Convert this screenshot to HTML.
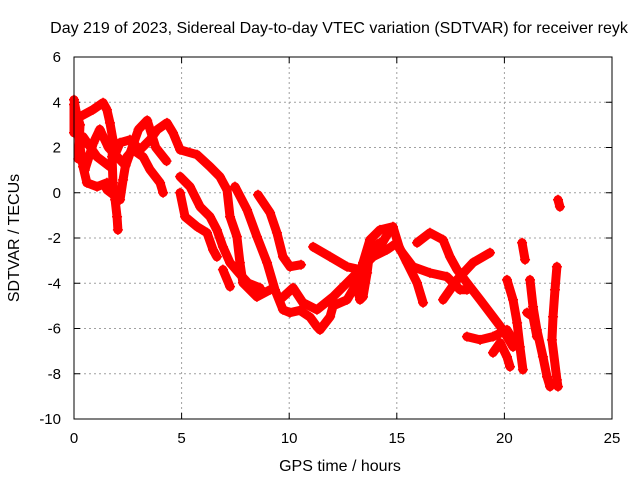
<!DOCTYPE html>
<html><head><meta charset="utf-8"><style>
body{margin:0;background:#fff}
svg text{font-family:"Liberation Sans",sans-serif;font-size:15px;fill:#000}
svg text.big{font-size:16px}
</style></head><body>
<svg id="chart" width="640" height="480">
<rect width="640" height="480" fill="#fff"/>
<text class="big" x="339" y="33" text-anchor="middle">Day 219 of 2023, Sidereal Day-to-day VTEC variation (SDTVAR) for receiver reyk</text>
<text class="big" x="340" y="471" text-anchor="middle">GPS time / hours</text>
<text class="big" transform="translate(19,238) rotate(-90)" text-anchor="middle">SDTVAR / TECUs</text>
<g id="grid"></g>
<g id="ticks"></g>
<g id="series"></g>
<rect x="74" y="57" width="538" height="362" fill="none" stroke="#000" stroke-width="1"/>
</svg>
<script>
const xTicks=[0,5,10,15,20,25];
const yTicks=[6,4,2,0,-2,-4,-6,-8,-10];
const tracks=[
[[0,4.11],[0.14,3.36],[0.28,2.03],[0.42,1.15],[0.6,0.44],[1.07,0.27],[1.53,0.44]],
[[0.28,3.36],[0.88,3.67],[1.35,3.98],[1.53,3.67],[1.67,3.09],[1.81,2.34],[1.77,1.59],[1.81,0.44],[1.91,-0.31],[2.0,-1.06],[2.04,-1.64]],
[[0.42,2.48],[1.07,1.59],[1.67,1.15],[2.14,2.21],[2.6,2.34],[3.07,1.9],[3.53,2.34],[3.86,2.78],[4.32,3.09],[4.6,2.65],[4.93,1.9],[5.72,1.68],[6.32,1.15],[6.78,0.71],[7.11,0.13],[7.25,-1.06],[7.57,-1.94],[7.71,-3.09],[7.85,-3.98],[8.5,-4.6],[9.11,-4.29]],
[[1.53,0.13],[2.14,-0.31],[2.28,0.57],[2.46,1.59],[2.74,1.9],[3.21,1.59],[3.53,1.02],[4.0,0.44],[4.14,0]],
[[0,2.65],[0,3.9],[0.28,3.0],[0.2,1.5]],
[[0.5,1.0],[0.9,2.2],[1.2,2.8],[1.6,2.0],[2.4,1.2],[3.0,2.8],[3.4,3.2],[3.8,2.0],[4.3,1.4]],
[[4.93,0.71],[5.39,0.27],[5.86,-0.62],[6.32,-1.06],[6.64,-1.64],[6.92,-2.39],[7.25,-3.09],[7.71,-3.6],[8.1,-4.0],[8.64,-4.2]],
[[4.93,0],[5.16,-1.06],[5.72,-1.5],[6.18,-1.77],[6.46,-2.52],[6.64,-2.83]],
[[6.92,-3.4],[7.25,-4.15]],
[[7.48,0.27],[8.04,-0.75],[8.5,-1.94],[8.97,-3.09],[9.34,-4.29],[9.71,-5.17],[10.04,-5.3],[10.5,-5.2],[10.97,-5.5],[11.29,-5.92],[11.43,-6.06],[11.9,-5.48],[12.04,-5.0],[12.69,-4.73],[13.15,-3.98],[13.43,-3.09],[13.75,-2.08],[14.22,-1.64],[14.82,-1.5],[15.15,-2.52],[15.75,-3.27],[16.54,-3.54],[17.33,-3.71],[17.94,-4.29],[18.26,-4.29]],
[[8.55,-0.09],[9.11,-0.88],[9.43,-1.77],[9.71,-2.83],[10.04,-3.27],[10.55,-3.18]],
[[9.57,-4.73],[10.18,-4.2],[10.64,-4.86],[11.29,-5.17],[12.04,-4.6],[12.83,-3.85],[13.62,-3.09],[14.22,-2.39],[14.68,-1.64]],
[[11.11,-2.39],[11.9,-2.83],[12.69,-3.27],[13.29,-3.4],[13.89,-2.83],[14.54,-2.52],[15.01,-2.21],[15.47,-3.09],[15.94,-3.98],[16.22,-4.86]],
[[13.15,-4.15],[13.29,-4.73],[13.43,-4.6],[13.62,-3.54],[13.75,-2.52],[14.22,-2.21]],
[[15.94,-2.21],[16.54,-1.77],[17.15,-2.08],[17.47,-2.83],[17.8,-3.4],[18.26,-3.98],[18.87,-4.73],[19.47,-5.48],[19.93,-6.06],[20.4,-6.81]],
[[17.15,-4.73],[17.8,-3.85],[18.54,-3.09],[19.33,-2.65]],
[[18.26,-6.36],[18.87,-6.5],[19.47,-6.36],[20.12,-6.06],[20.4,-6.5]],
[[19.47,-7.07],[19.8,-6.63],[20.12,-7.25],[20.26,-7.69]],
[[20.12,-3.85],[20.4,-4.73],[20.59,-5.75],[20.72,-6.81],[20.86,-7.82]],
[[20.82,-2.21],[20.96,-2.96]],
[[21.19,-3.85],[21.33,-5.04],[21.51,-6.06],[21.79,-7.25],[21.98,-8.13],[22.12,-8.57]],
[[21.05,-5.3],[21.33,-5.48],[21.51,-6.36]],
[[22.44,-3.27],[22.35,-4.29],[22.26,-5.48],[22.21,-6.5],[22.44,-8.27],[22.49,-8.57]],
[[22.49,-0.31],[22.58,-0.62]]
];
const X0=74,X1=612,Y0=419,Y1=57;
const xs=h=>X0+(h-0)/(25-0)*(X1-X0);
const ys=v=>Y0-(v+10)/16*(Y0-Y1);
const NS="http://www.w3.org/2000/svg";
const grid=document.getElementById('grid'),ticks=document.getElementById('ticks'),ser=document.getElementById('series');
function mk(tag,attrs,parent){const e=document.createElementNS(NS,tag);for(const k in attrs)e.setAttribute(k,attrs[k]);parent.appendChild(e);return e;}
xTicks.forEach(t=>{const x=xs(t);
 if(t>0&&t<25){const g=mk('line',{x1:x,x2:x,y1:Y1,y2:Y0,stroke:'#a0a0a0','stroke-dasharray':'2,3'},grid);
 
 }
 const tk=mk('path',{d:`M${x},${Y0}v-6M${x},${Y1}v6`,stroke:'#000'},ticks);
 
 
 const l=mk('text',{x:x,y:443,'text-anchor':'middle'},ticks);l.textContent=t;
 
 
});
yTicks.forEach(t=>{const y=ys(t);
 if(t>-10&&t<6){const g=mk('line',{x1:X0,x2:X1,y1:y,y2:y,stroke:'#a0a0a0','stroke-dasharray':'2,3'},grid);
 
 }
 const tk=mk('path',{d:`M${X0},${y}h6M${X1},${y}h-6`,stroke:'#000'},ticks);
 
 
 const l=mk('text',{x:61,y:y+5,'text-anchor':'end'},ticks);l.textContent=t;
 
 
});
tracks.forEach(tr=>{
 const pl=mk('polyline',{points:tr.map(p=>xs(p[0])+','+ys(p[1])).join(' '),fill:'none',stroke:'#ff0000','stroke-width':9,'stroke-linejoin':'round','stroke-linecap':'round'},ser);
 
 
 tr.forEach(p=>{const x=xs(p[0]),y=ys(p[1]);
  const m=mk('path',{d:`M${x-5},${y}h10M${x},${y-5}v10`,stroke:'#ff0000','stroke-width':1.5},ser);
  
  
 });
});
</script>
</body></html>
